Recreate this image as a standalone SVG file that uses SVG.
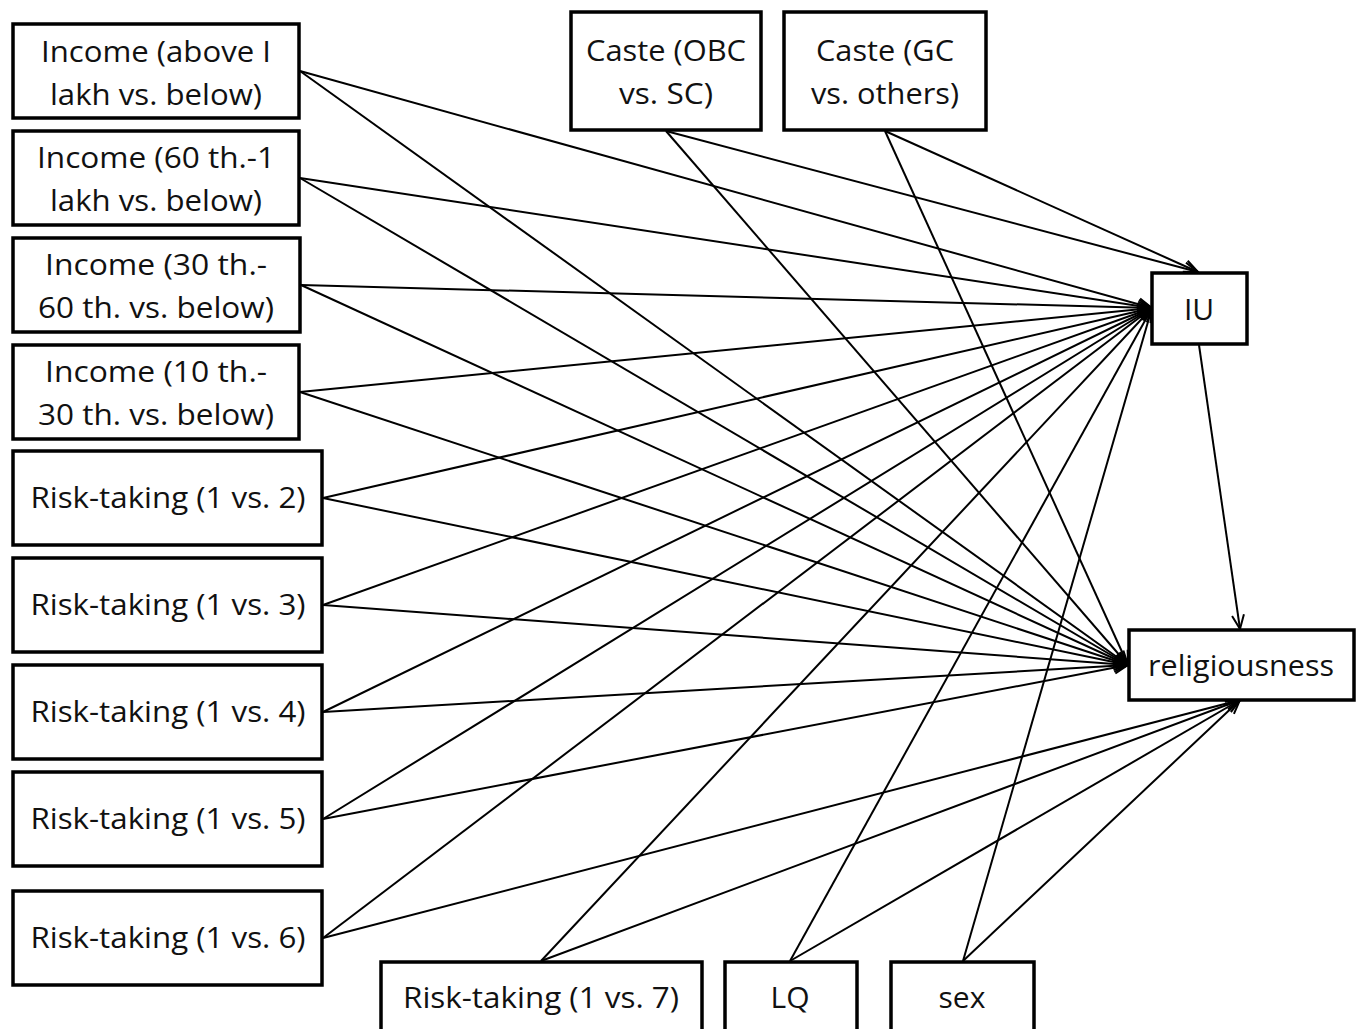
<svg xmlns="http://www.w3.org/2000/svg" width="1357" height="1029" viewBox="0 0 1357 1029">
<style>
.box{fill:#fff;stroke:#000;stroke-width:3.5}
.t{font-family:"Open Sans","Noto Sans","Liberation Sans",sans-serif;font-size:30px;fill:#111;text-anchor:middle}
.c{stroke:#000;stroke-width:2;fill:none;marker-end:url(#a)}
</style>
<defs>
<marker id="a" markerUnits="userSpaceOnUse" markerWidth="18" markerHeight="16" refX="15" refY="7" orient="auto" viewBox="0 0 18 14">
<path d="M1,1 L15,7 L1,13" fill="none" stroke="#000" stroke-width="2"/>
</marker>
</defs>
<rect width="1357" height="1029" fill="#fff"/>
<g id="connectors">
<line class="c" x1="300" y1="71" x2="1152" y2="308"/>
<line class="c" x1="300" y1="71" x2="1128" y2="665"/>
<line class="c" x1="300" y1="178" x2="1152" y2="308"/>
<line class="c" x1="300" y1="178" x2="1128" y2="665"/>
<line class="c" x1="301" y1="285" x2="1152" y2="308"/>
<line class="c" x1="301" y1="285" x2="1128" y2="665"/>
<line class="c" x1="300" y1="392" x2="1152" y2="308"/>
<line class="c" x1="300" y1="392" x2="1128" y2="665"/>
<line class="c" x1="323" y1="498" x2="1152" y2="308"/>
<line class="c" x1="323" y1="498" x2="1128" y2="665"/>
<line class="c" x1="323" y1="605" x2="1152" y2="308"/>
<line class="c" x1="323" y1="605" x2="1128" y2="665"/>
<line class="c" x1="323" y1="712" x2="1152" y2="308"/>
<line class="c" x1="323" y1="712" x2="1128" y2="665"/>
<line class="c" x1="323" y1="819" x2="1152" y2="308"/>
<line class="c" x1="323" y1="819" x2="1128" y2="665"/>
<line class="c" x1="323" y1="938" x2="1152" y2="308"/>
<line class="c" x1="323" y1="938" x2="1240" y2="700"/>
<line class="c" x1="666" y1="131" x2="1198" y2="272"/>
<line class="c" x1="666" y1="131" x2="1128" y2="665"/>
<line class="c" x1="885" y1="131" x2="1198" y2="272"/>
<line class="c" x1="885" y1="131" x2="1128" y2="665"/>
<line class="c" x1="541" y1="961" x2="1152" y2="308"/>
<line class="c" x1="541" y1="961" x2="1240" y2="700"/>
<line class="c" x1="790" y1="961" x2="1152" y2="308"/>
<line class="c" x1="790" y1="961" x2="1240" y2="700"/>
<line class="c" x1="963" y1="961" x2="1152" y2="308"/>
<line class="c" x1="963" y1="961" x2="1240" y2="700"/>
<line class="c" x1="1199" y1="345" x2="1240" y2="629"/>
</g>
<g id="n-inc1"><rect class="box" x="13" y="24" width="286" height="94"/><text class="t" x="156" y="62" textLength="230" lengthAdjust="spacingAndGlyphs">Income (above I</text><text class="t" x="156" y="105" textLength="212" lengthAdjust="spacingAndGlyphs">lakh vs. below)</text></g>
<g id="n-inc2"><rect class="box" x="13" y="131" width="286" height="94"/><text class="t" x="156" y="168" textLength="238" lengthAdjust="spacingAndGlyphs">Income (60 th.-1</text><text class="t" x="156" y="211" textLength="212" lengthAdjust="spacingAndGlyphs">lakh vs. below)</text></g>
<g id="n-inc3"><rect class="box" x="13" y="238" width="287" height="94"/><text class="t" x="156" y="275" textLength="222" lengthAdjust="spacingAndGlyphs">Income (30 th.-</text><text class="t" x="156" y="318" textLength="236" lengthAdjust="spacingAndGlyphs">60 th. vs. below)</text></g>
<g id="n-inc4"><rect class="box" x="13" y="345" width="286" height="94"/><text class="t" x="156" y="382" textLength="222" lengthAdjust="spacingAndGlyphs">Income (10 th.-</text><text class="t" x="156" y="425" textLength="236" lengthAdjust="spacingAndGlyphs">30 th. vs. below)</text></g>
<g id="n-r2"><rect class="box" x="13" y="451" width="309" height="94"/><text class="t" x="168" y="508" textLength="275" lengthAdjust="spacingAndGlyphs">Risk-taking (1 vs. 2)</text></g>
<g id="n-r3"><rect class="box" x="13" y="558" width="309" height="94"/><text class="t" x="168" y="615" textLength="275" lengthAdjust="spacingAndGlyphs">Risk-taking (1 vs. 3)</text></g>
<g id="n-r4"><rect class="box" x="13" y="665" width="309" height="94"/><text class="t" x="168" y="722" textLength="275" lengthAdjust="spacingAndGlyphs">Risk-taking (1 vs. 4)</text></g>
<g id="n-r5"><rect class="box" x="13" y="772" width="309" height="94"/><text class="t" x="168" y="829" textLength="275" lengthAdjust="spacingAndGlyphs">Risk-taking (1 vs. 5)</text></g>
<g id="n-r6"><rect class="box" x="13" y="891" width="309" height="94"/><text class="t" x="168" y="948" textLength="275" lengthAdjust="spacingAndGlyphs">Risk-taking (1 vs. 6)</text></g>
<g id="n-obc"><rect class="box" x="571" y="12" width="190" height="118"/><text class="t" x="666" y="61" textLength="160" lengthAdjust="spacingAndGlyphs">Caste (OBC</text><text class="t" x="666" y="104" textLength="94" lengthAdjust="spacingAndGlyphs">vs. SC)</text></g>
<g id="n-gc"><rect class="box" x="784" y="12" width="202" height="118"/><text class="t" x="885" y="61" textLength="138" lengthAdjust="spacingAndGlyphs">Caste (GC</text><text class="t" x="885" y="104" textLength="148" lengthAdjust="spacingAndGlyphs">vs. others)</text></g>
<g id="n-iu"><rect class="box" x="1152" y="273" width="95" height="71"/><text class="t" x="1199" y="320">IU</text></g>
<g id="n-rel"><rect class="box" x="1129" y="630" width="225" height="70"/><text class="t" x="1241" y="676" textLength="186" lengthAdjust="spacingAndGlyphs">religiousness</text></g>
<g id="n-r7"><rect class="box" x="381" y="962" width="321" height="80"/><text class="t" x="541" y="1008" textLength="276" lengthAdjust="spacingAndGlyphs">Risk-taking (1 vs. 7)</text></g>
<g id="n-lq"><rect class="box" x="725" y="962" width="132" height="80"/><text class="t" x="790" y="1008">LQ</text></g>
<g id="n-sex"><rect class="box" x="891" y="962" width="143" height="80"/><text class="t" x="962" y="1008">sex</text></g>
</svg>
